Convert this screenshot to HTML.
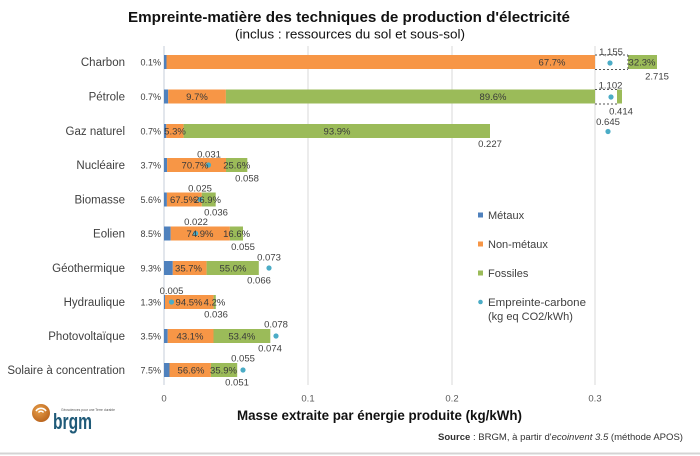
<!DOCTYPE html>
<html><head><meta charset="utf-8"><style>
html,body{margin:0;padding:0;background:#fff;}
svg{display:block;}
text{font-family:"Liberation Sans",Arial,sans-serif;}
</style></head><body>
<svg width="700" height="456" viewBox="0 0 700 456" xmlns="http://www.w3.org/2000/svg">
<rect width="700" height="456" fill="#fff"/>
<line x1="0" y1="453.5" x2="700" y2="453.5" stroke="#d4d4d4" stroke-width="2"/>

<!-- Titles -->
<text x="349" y="22" text-anchor="middle" font-size="15" font-weight="bold" fill="#111" textLength="442" lengthAdjust="spacingAndGlyphs">Empreinte-matière des techniques de production d'électricité</text>
<text x="350" y="38.5" text-anchor="middle" font-size="13" fill="#111" textLength="230" lengthAdjust="spacingAndGlyphs">(inclus : ressources du sol et sous-sol)</text>

<!-- Gridlines -->
<g stroke="#d9d9d9" stroke-width="1">
<line x1="308" y1="46" x2="308" y2="385"/>
<line x1="452" y1="46" x2="452" y2="385"/>
<line x1="595" y1="46" x2="595" y2="385"/>
</g>
<line x1="164" y1="46" x2="164" y2="385" stroke="#c5ced8" stroke-width="1"/>

<!-- Tick labels -->
<g font-size="9.5" fill="#595959" text-anchor="middle">
<text x="164" y="401.5">0</text>
<text x="308" y="401.5">0.1</text>
<text x="452" y="401.5">0.2</text>
<text x="595" y="401.5">0.3</text>
</g>

<!-- Category labels -->
<g font-size="11.5" fill="#404040" text-anchor="end">
<text x="125" y="66">Charbon</text>
<text x="125" y="100.5">Pétrole</text>
<text x="125" y="135">Gaz naturel</text>
<text x="125" y="169">Nucléaire</text>
<text x="125" y="203.5">Biomasse</text>
<text x="125" y="237.5">Eolien</text>
<text x="125" y="272">Géothermique</text>
<text x="125" y="306">Hydraulique</text>
<text x="125" y="340">Photovoltaïque</text>
<text x="125" y="374">Solaire à concentration</text>
</g>

<!-- Bars -->
<g>
<!-- Charbon yc=62 -->
<rect x="164" y="55" width="2.5" height="14" fill="#4f81bd"/>
<rect x="166.5" y="55" width="428.5" height="14" fill="#f79646"/>
<rect x="628" y="55" width="29" height="14" fill="#9bbb59"/>
<g stroke="#555" stroke-width="1" stroke-dasharray="2,2" fill="none">
<line x1="595" y1="55" x2="628" y2="55"/>
<line x1="595" y1="69.5" x2="628" y2="69.5"/>
<line x1="628" y1="55" x2="628" y2="69.5"/>
</g>
<!-- Pétrole yc=96.5 -->
<rect x="164" y="89.5" width="4.2" height="14" fill="#4f81bd"/>
<rect x="168.2" y="89.5" width="57.7" height="14" fill="#f79646"/>
<rect x="225.9" y="89.5" width="369.1" height="14" fill="#9bbb59"/>
<rect x="617" y="89.5" width="5" height="14" fill="#9bbb59"/>
<g stroke="#555" stroke-width="1" stroke-dasharray="2,2" fill="none">
<line x1="595" y1="89.5" x2="617" y2="89.5"/>
<line x1="595" y1="104" x2="617" y2="104"/>
</g>
<!-- Gaz yc=131 -->
<rect x="164" y="124" width="2.3" height="14" fill="#4f81bd"/>
<rect x="166.3" y="124" width="17.3" height="14" fill="#f79646"/>
<rect x="183.6" y="124" width="306.4" height="14" fill="#9bbb59"/>
<!-- Nucléaire yc=165 -->
<rect x="164" y="158" width="3.1" height="14" fill="#4f81bd"/>
<rect x="167.1" y="158" width="58.9" height="14" fill="#f79646"/>
<rect x="226" y="158" width="21.3" height="14" fill="#9bbb59"/>
<!-- Biomasse yc=199.5 -->
<rect x="164" y="192.5" width="2.9" height="14" fill="#4f81bd"/>
<rect x="166.9" y="192.5" width="34.9" height="14" fill="#f79646"/>
<rect x="201.8" y="192.5" width="13.9" height="14" fill="#9bbb59"/>
<!-- Eolien yc=233.5 -->
<rect x="164" y="226.5" width="6.7" height="14" fill="#4f81bd"/>
<rect x="170.7" y="226.5" width="59.2" height="14" fill="#f79646"/>
<rect x="229.9" y="226.5" width="13.1" height="14" fill="#9bbb59"/>
<!-- Géothermique yc=268 -->
<rect x="164" y="261" width="8.8" height="14" fill="#4f81bd"/>
<rect x="172.8" y="261" width="33.8" height="14" fill="#f79646"/>
<rect x="206.6" y="261" width="52.2" height="14" fill="#9bbb59"/>
<!-- Hydraulique yc=302 -->
<rect x="164" y="295" width="1" height="14" fill="#4f81bd"/>
<rect x="165" y="295" width="48.6" height="14" fill="#f79646"/>
<rect x="213.6" y="295" width="2.2" height="14" fill="#9bbb59"/>
<!-- Photovoltaïque yc=336 -->
<rect x="164" y="329" width="3.7" height="14" fill="#4f81bd"/>
<rect x="167.7" y="329" width="45.8" height="14" fill="#f79646"/>
<rect x="213.5" y="329" width="56.8" height="14" fill="#9bbb59"/>
<!-- Solaire yc=370 -->
<rect x="164" y="363" width="5.5" height="14" fill="#4f81bd"/>
<rect x="169.5" y="363" width="41.4" height="14" fill="#f79646"/>
<rect x="210.9" y="363" width="26.3" height="14" fill="#9bbb59"/>
</g>

<!-- Carbon dots -->
<g fill="#4bacc6">
<circle cx="610" cy="63" r="2.6"/>
<circle cx="611" cy="97" r="2.6"/>
<circle cx="608" cy="131.5" r="2.6"/>
<circle cx="208.5" cy="165" r="2.6"/>
<circle cx="200" cy="199.5" r="2.6"/>
<circle cx="195.6" cy="233.5" r="2.6"/>
<circle cx="269" cy="268" r="2.6"/>
<circle cx="171.5" cy="302" r="2.6"/>
<circle cx="276" cy="336" r="2.6"/>
<circle cx="243" cy="370" r="2.6"/>
</g>

<!-- Left percent labels -->
<g font-size="9" fill="#404040" text-anchor="end">
<text x="161" y="65.5">0.1%</text>
<text x="161" y="100">0.7%</text>
<text x="161" y="134.5">0.7%</text>
<text x="161" y="168.5">3.7%</text>
<text x="161" y="203">5.6%</text>
<text x="161" y="237">8.5%</text>
<text x="161" y="271.5">9.3%</text>
<text x="161" y="305.5">1.3%</text>
<text x="161" y="339.5">3.5%</text>
<text x="161" y="373.5">7.5%</text>
</g>

<!-- Inside percent labels -->
<g font-size="9.5" fill="#3a3a3a" text-anchor="middle">
<text x="552" y="65.5">67.7%</text>
<text x="642" y="65.5">32.3%</text>
<text x="197" y="100">9.7%</text>
<text x="493" y="100">89.6%</text>
<text x="175" y="134.5">5.3%</text>
<text x="337" y="134.5">93.9%</text>
<text x="195" y="168.5">70.7%</text>
<text x="236.7" y="168.5">25.6%</text>
<text x="183.5" y="203">67.5%</text>
<text x="207.5" y="203">26.9%</text>
<text x="200" y="237">74.9%</text>
<text x="236.6" y="237">16.6%</text>
<text x="188.5" y="271.5">35.7%</text>
<text x="233" y="271.5">55.0%</text>
<text x="189" y="305.5">94.5%</text>
<text x="214.5" y="305.5">4.2%</text>
<text x="190" y="339.5">43.1%</text>
<text x="241.8" y="339.5">53.4%</text>
<text x="191" y="373.5">56.6%</text>
<text x="223.5" y="373.5">35.9%</text>
</g>

<!-- Value labels (carbon above, total below) -->
<g font-size="9.5" fill="#404040" text-anchor="middle">
<text x="611" y="55">1,155</text>
<text x="657" y="79.5">2.715</text>
<text x="610.5" y="88.5">1.102</text>
<text x="621" y="114.5">0.414</text>
<text x="608" y="125">0.645</text>
<text x="490" y="147">0.227</text>
<text x="209" y="157.5">0.031</text>
<text x="247" y="181.5">0.058</text>
<text x="200" y="191.5">0.025</text>
<text x="216" y="215.5">0.036</text>
<text x="196" y="225">0.022</text>
<text x="243" y="250">0.055</text>
<text x="269" y="260.5">0.073</text>
<text x="259" y="283.5">0.066</text>
<text x="171.5" y="294">0.005</text>
<text x="216" y="317.5">0.036</text>
<text x="276" y="327.5">0.078</text>
<text x="270" y="351.5">0.074</text>
<text x="243" y="361.5">0.055</text>
<text x="237" y="385.5">0.051</text>
</g>

<!-- Legend -->
<rect x="478" y="212.5" width="5" height="5" fill="#4f81bd"/>
<rect x="478" y="241.5" width="5" height="5" fill="#f79646"/>
<rect x="478" y="270.5" width="5" height="5" fill="#9bbb59"/>
<circle cx="480.5" cy="302" r="2.3" fill="#4bacc6"/>
<g font-size="11" fill="#404040">
<text x="488" y="219">Métaux</text>
<text x="488" y="248">Non-métaux</text>
<text x="488" y="277">Fossiles</text>
<text x="488" y="306" textLength="98" lengthAdjust="spacingAndGlyphs">Empreinte-carbone</text>
<text x="488" y="320">(kg eq CO2/kWh)</text>
</g>

<!-- Axis title -->
<text x="379.5" y="420" text-anchor="middle" font-size="14" font-weight="bold" fill="#111" textLength="285" lengthAdjust="spacingAndGlyphs">Masse extraite par énergie produite (kg/kWh)</text>

<!-- Source -->
<text x="438" y="440" font-size="9" fill="#333" textLength="245" lengthAdjust="spacingAndGlyphs"><tspan font-weight="bold">Source</tspan> : BRGM, à partir d'<tspan font-style="italic">ecoinvent  3.5</tspan> (méthode APOS)</text>

<!-- Logo -->
<defs>
<radialGradient id="lg" cx="0.4" cy="0.35" r="0.7">
<stop offset="0" stop-color="#e9a04a"/>
<stop offset="1" stop-color="#b8621c"/>
</radialGradient>
</defs>
<circle cx="41" cy="413" r="9" fill="url(#lg)"/>
<path d="M36 411 A6 6 0 0 1 46 411" stroke="#fff" stroke-width="1.6" fill="none"/>
<path d="M38.5 412.5 A3 3 0 0 1 43.5 412.5" stroke="#fff" stroke-width="1.4" fill="none"/>
<text x="53" y="429" font-size="22" font-weight="bold" fill="#1f5a78" textLength="39" lengthAdjust="spacingAndGlyphs">brgm</text>
<text x="61" y="411" font-size="3.5" fill="#555" textLength="54" lengthAdjust="spacingAndGlyphs">Géosciences pour une Terre durable</text>
</svg>
</body></html>
